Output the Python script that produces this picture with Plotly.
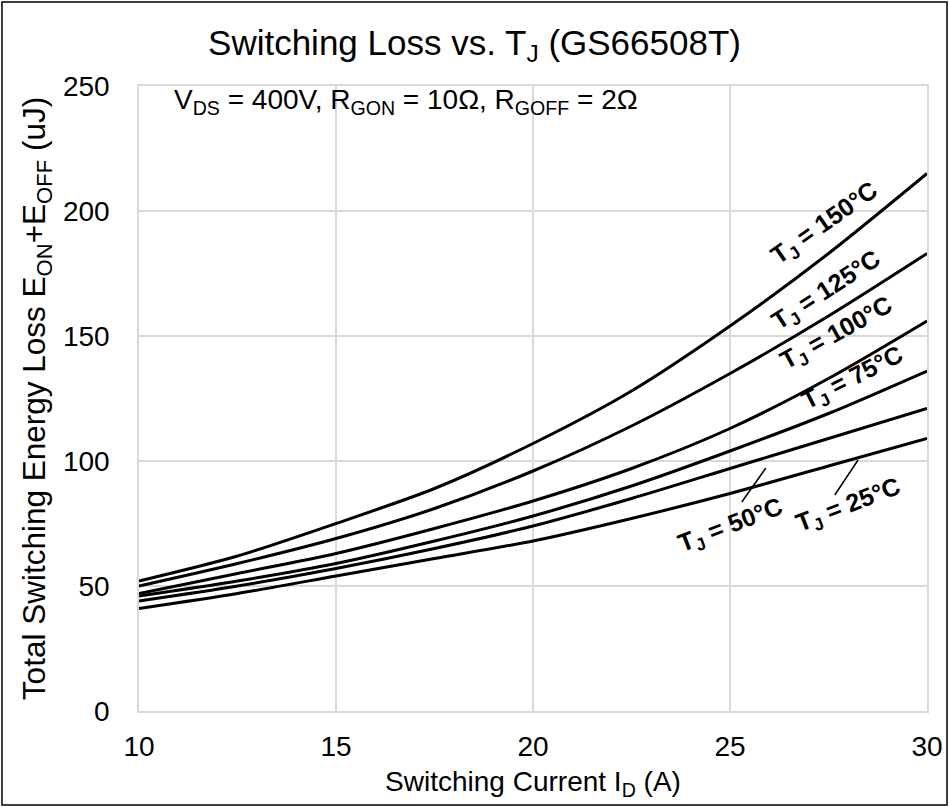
import plotly.graph_objects as go

# switching current (A)
current = [10, 12.5, 15, 17.5, 20, 22.5, 25, 27.5, 30]

# total switching energy E_ON + E_OFF (uJ) per junction temperature
loss_150 = [52, 62, 75, 89, 107, 128, 154, 183, 215]
loss_125 = [50, 59, 69, 81, 96, 114, 135, 158, 183]
loss_100 = [47, 55, 63, 73, 84, 97, 113, 133, 156]
loss_75 = [46, 52, 59, 68, 78, 90, 104, 119, 136]
loss_50 = [44, 50, 57, 65, 74, 85, 97, 109, 121]
loss_25 = [41, 47, 54, 61, 68, 77, 87, 98, 109]

series = [
    ("150°C", loss_150),
    ("125°C", loss_125),
    ("100°C", loss_100),
    ("75°C", loss_75),
    ("50°C", loss_50),
    ("25°C", loss_25),
]

# curve labels: text, x, y, angle
labels = [
    ("150°C", 27.4, 195, -35),
    ("125°C", 27.45, 168, -33),
    ("100°C", 27.7, 151, -29),
    ("75°C", 28.1, 133, -27),
    ("50°C", 25.02, 74, -21),
    ("25°C", 28.0, 82, -21),
]

x_ticks = [10, 15, 20, 25, 30]
y_ticks = [0, 50, 100, 150, 200, 250]

FONT = "Liberation Sans, Arial, sans-serif"

fig = go.Figure()

for name, vals in series:
    fig.add_trace(
        go.Scatter(
            x=current,
            y=vals,
            mode="lines",
            name=name,
            line=dict(color="black", width=3, shape="spline", smoothing=0.8),
        )
    )

for text, lx, ly, ang in labels:
    fig.add_annotation(
        x=lx, y=ly, xref="x", yref="y",
        text="<b>T<sub>J</sub> = " + text + "</b>",
        showarrow=False, textangle=ang,
        font=dict(size=25, color="black", family=FONT),
    )

# leader lines for the two lowest curves
fig.add_shape(type="line", xref="x", yref="y", x0=25.3, y0=83.6, x1=25.91, y1=97.2,
              line=dict(color="black", width=1.5))
fig.add_shape(type="line", xref="x", yref="y", x0=27.66, y0=86.4, x1=28.25, y1=100.4,
              line=dict(color="black", width=1.5))

fig.add_annotation(
    x=10.84, y=244, xref="x", yref="y", xanchor="left",
    text="V<sub>DS</sub> = 400V, R<sub>GON</sub> = 10Ω, R<sub>GOFF</sub> = 2Ω",
    showarrow=False, font=dict(size=28, color="black", family=FONT),
)

# outer chart frame
fig.add_shape(type="rect", xref="paper", yref="paper",
              x0=-0.1739, x1=1.0254, y0=-0.1504, y1=1.1344,
              line=dict(color="black", width=1.5))

fig.update_layout(
    title=dict(
        text="Switching Loss vs. T<sub>J</sub> (GS66508T)",
        x=0.5, xanchor="center", y=0.947, yanchor="middle",
        font=dict(size=35, color="black", family=FONT),
    ),
    width=949,
    height=807,
    margin=dict(l=139, r=22, t=86, b=96),
    paper_bgcolor="white",
    plot_bgcolor="white",
    showlegend=False,
    font=dict(family=FONT, color="black"),
    xaxis=dict(
        range=[10, 30], tickvals=x_ticks, automargin=False,
        showgrid=True, gridcolor="#d9d9d9", gridwidth=1.5,
        showline=True, linecolor="#d9d9d9", linewidth=1.5, mirror=True,
        zeroline=False, ticks="outside", ticklen=10, tickcolor="rgba(0,0,0,0)",
        tickfont=dict(size=28, color="black"),
        title=dict(text="Switching Current I<sub>D</sub> (A)", font=dict(size=28, color="black"), standoff=10),
    ),
    yaxis=dict(
        range=[0, 250], tickvals=y_ticks, automargin=False,
        showgrid=True, gridcolor="#d9d9d9", gridwidth=1.5,
        showline=True, linecolor="#d9d9d9", linewidth=1.5, mirror=True,
        zeroline=False, ticks="outside", ticklen=22, tickcolor="rgba(0,0,0,0)",
        tickfont=dict(size=28, color="black"),
        title=dict(text="Total Switching Energy Loss E<sub>ON</sub>+E<sub>OFF</sub> (uJ)",
                   font=dict(size=31.5, color="black"), standoff=8),
    ),
)

fig.write_html(
    "out.html",
    config={"displayModeBar": False, "responsive": False},
    post_script="document.body.style.margin='0';document.body.style.overflow='hidden';",
)
